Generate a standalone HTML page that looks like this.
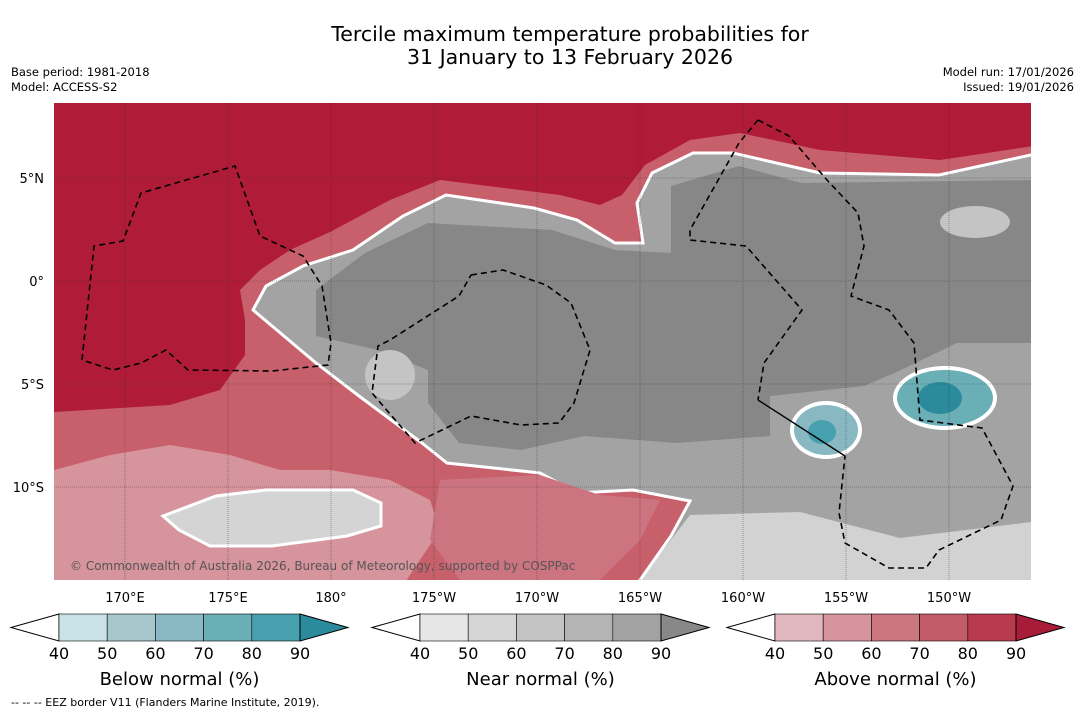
<!DOCTYPE html>
<html><head><meta charset="utf-8"><style>
body{margin:0;background:#fff;width:1085px;height:713px;overflow:hidden;font-family:"DejaVu Sans","Liberation Sans",sans-serif}
svg text{font-family:"DejaVu Sans","Liberation Sans",sans-serif}
</style></head><body>
<svg id="s" width="1085" height="713" xmlns="http://www.w3.org/2000/svg">
<text x="570" y="41" font-size="20.5" text-anchor="middle">Tercile maximum temperature probabilities for</text>
<text x="570" y="64" font-size="20.5" text-anchor="middle">31 January to 13 February 2026</text>
<text x="11" y="76" font-size="11.5">Base period: 1981-2018</text>
<text x="11" y="91" font-size="11.5">Model: ACCESS-S2</text>
<text x="1074" y="76" font-size="11.5" text-anchor="end">Model run: 17/01/2026</text>
<text x="1074" y="91" font-size="11.5" text-anchor="end">Issued: 19/01/2026</text>
<defs><clipPath id="mc"><rect x="54" y="103" width="977" height="477"/></clipPath></defs>
<g clip-path="url(#mc)">
<rect x="54" y="103" width="977" height="477" fill="#a3a3a3"/>
<polygon fill="#d2d2d2" points="640,580 690,515 800,512 900,538 1031,522 1031,580"/>
<polygon fill="#878787" points="316,290 365,253 428,223 552,230 615,250 671,253 671,186 739,166 802,183 1031,180 1031,343 957,343 901,370 864,386 770,396 770,436 677,443 584,436 521,450 459,443 428,403 428,370 378,350 316,336"/>
<ellipse cx="975" cy="222" rx="35" ry="16" fill="#c4c4c4"/>
<ellipse cx="390" cy="375" rx="25" ry="25" fill="#c4c4c4"/>
<polygon fill="#c8606c" stroke="#fff" stroke-width="3" points="1040,103 1040,153 939,175 820,173 733,153 693,153 652,173 637,203 643,243 615,243 577,220 534,208 446,195 403,216 353,250 303,266 266,286 253,310 316,363 359,396 422,443 447,463 540,473 577,493 633,490 690,501 671,536 633,590 40,590 40,103"/>
<polygon fill="#d6949c" points="54,470 110,455 170,445 230,455 280,470 330,470 390,480 430,500 440,530 420,560 400,590 40,590"/>
<polygon fill="#cc7580" points="440,480 540,475 600,495 660,500 640,540 600,580 460,580 430,540"/>
<polygon fill="#b01c38" points="40,103 1040,103 1040,145 940,160 820,150 740,133 690,140 645,165 622,195 600,205 560,195 440,180 390,200 330,232 290,250 260,270 240,290 245,320 245,355 220,390 170,405 54,412 40,412"/>
<polygon fill="#d4d4d4" stroke="#fff" stroke-width="3" points="163,516 216,496 266,490 353,490 381,503 381,526 347,536 272,546 210,546 179,530"/>
<ellipse cx="945" cy="398" rx="52" ry="32" fill="#fff"/>
<ellipse cx="945" cy="398" rx="48" ry="28" fill="#6aaeb6"/>
<ellipse cx="940" cy="398" rx="22" ry="16" fill="#2b8b9c"/>
<ellipse cx="826" cy="430" rx="36" ry="29" fill="#fff"/>
<ellipse cx="826" cy="430" rx="32" ry="25" fill="#88b8c1"/>
<ellipse cx="822" cy="432" rx="14" ry="12" fill="#47a0ae"/>
<g id="grid" stroke="#333" stroke-width="0.6" stroke-dasharray="1,1" opacity="0.7"></g>
<g fill="none" stroke="#000" stroke-width="1.6" stroke-dasharray="6,4">
<polyline points="82,360 94,246 123,241 141,193 235,166 260,236 303,256 322,286 331,343 328,365 272,371 188,370 166,350 141,363 113,370 82,360"/>
<polyline points="471,275 503,270 546,285 571,303 590,350 574,403 559,423 521,425 471,416 415,443 372,393 378,346 390,340 459,296 471,275"/>
<polyline points="758,120 789,136 827,180 858,213 864,246 851,296 889,310 914,343 920,420 982,428 1013,486 1001,520 939,550 926,568 889,568 845,543 839,513 845,456"/>
<polyline points="758,120 739,143 690,230 690,240 746,246 802,310 764,363 758,400"/>
</g>
<line x1="758" y1="400" x2="845" y2="456" stroke="#000" stroke-width="1.4"/>
<text x="70" y="570" font-size="12" fill="#555">© Commonwealth of Australia 2026, Bureau of Meteorology, supported by COSPPac</text>
</g>
<g id="lonlab" font-size="13" text-anchor="middle"></g>
<g id="latlab" font-size="13" text-anchor="end"></g>
<g id="bars"></g>
<text x="11" y="706" font-size="11">--  --  -- EEZ border V11 (Flanders Marine Institute, 2019).</text>
</svg>
<script>
const lonTicks=["170°E","175°E","180°","175°W","170°W","165°W","160°W","155°W","150°W"];
const lonVals=[170,175,180,185,190,195,200,205,210];
const latTicks=["5°N","0°","5°S","10°S"];
const latVals=[5,0,-5,-10];
const barTicks=["40","50","60","70","80","90"];
const belowColors=["#c9e2e8","#a5c7cc","#88b8c1","#6aaeb6","#47a0ae","#2b8b9c"];
const nearColors=["#e6e6e6","#d6d6d6","#c4c4c4","#b4b4b4","#a2a2a2","#888888"];
const aboveColors=["#e0b8bd","#d6959c","#cc7680","#c45b68","#b83a4e","#a81c3a"];
const barTitles=["Below normal (%)","Near normal (%)","Above normal (%)"];
const NS="http://www.w3.org/2000/svg";
const xOf=l=>125+(l-170)*20.6, yOf=a=>281-a*20.6;
function mk(t,a,p){const e=document.createElementNS(NS,t);for(const k in a)e.setAttribute(k,a[k]);p.appendChild(e);return e;}
const grid=document.getElementById('grid');
lonVals.forEach(v=>{const l=mk('line',{x1:xOf(v),x2:xOf(v),y1:103,y2:580},grid);

});
latVals.forEach(v=>{const l=mk('line',{x1:54,x2:1031,y1:yOf(v),y2:yOf(v)},grid);

});
const lg=document.getElementById('lonlab');
lonVals.forEach((v,i)=>{const t=mk('text',{x:xOf(v),y:602},lg);t.textContent=lonTicks[i];

});
const la=document.getElementById('latlab');
latVals.forEach((v,i)=>{const t=mk('text',{x:44,y:yOf(v)+5},la);t.textContent=latTicks[i];

});
const bars=document.getElementById('bars');
[[59,belowColors],[420,nearColors],[775,aboveColors]].forEach(([x0,cols],bi)=>{
 const w=48.2,y0=614,h=27,g=mk('g',{},bars);
 
 
 const L=mk('polygon',{points:`${x0},${y0} ${x0-48},${y0+h/2} ${x0},${y0+h}`,fill:'#fff',stroke:'#000','stroke-width':1},g);
 
 
 for(let i=0;i<5;i++){const r=mk('rect',{x:x0+i*w,y:y0,width:w,height:h,fill:cols[i],stroke:'#000','stroke-width':0.6},g);
  
  }
 const xe=x0+5*w;
 const R=mk('polygon',{points:`${xe},${y0} ${xe+48},${y0+h/2} ${xe},${y0+h}`,fill:cols[5],stroke:'#000','stroke-width':1},g);
 
 
 barTicks.forEach((s,i)=>{const t=mk('text',{x:x0+i*w,y:659,'font-size':16,'text-anchor':'middle'},g);t.textContent=s;
  
  });
 const tt=mk('text',{x:x0+2.5*w,y:685,'font-size':18,'text-anchor':'middle'},g);tt.textContent=barTitles[bi];
 
 
});
</script>
</body></html>
